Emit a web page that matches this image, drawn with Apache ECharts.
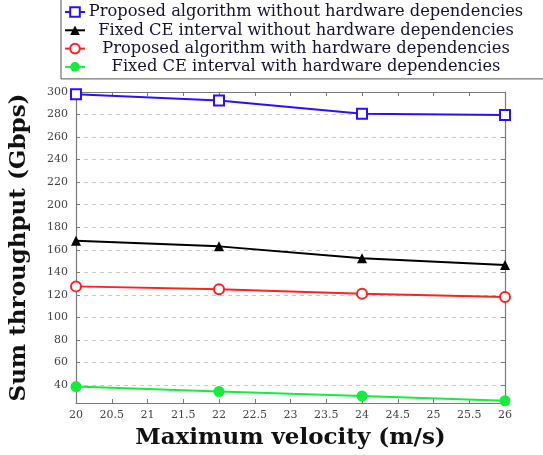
<!DOCTYPE html>
<html>
<head>
<meta charset="utf-8">
<style>
  html, body { margin: 0; padding: 0; background: #fff; }
  #chart { width: 543px; height: 455px; }
</style>
<script src="https://cdn.jsdelivr.net/npm/echarts@6/dist/echarts.min.js"></script>
</head>
<body>
<div id="chart"></div>
<script>
// Maximum velocity (m/s)
const velocities = [20, 22, 24, 26];

// Sum throughput (Gbps) per scheme
const proposedNoHw = [298, 292.5, 280.7, 279.5];
const fixedNoHw = [168, 163, 152.5, 146.5];
const proposedHw = [127.5, 125, 121, 118];
const fixedHw = [38.6, 34.2, 30.2, 26];

const seriesNames = [
  'Proposed algorithm without hardware dependencies',
  'Fixed CE interval without hardware dependencies',
  'Proposed algorithm with hardware dependencies',
  'Fixed CE interval with hardware dependencies'
];

const yTicks = [40, 60, 80, 100, 120, 140, 160, 180, 200, 220, 240, 260, 280, 300];

const serif = '"DejaVu Serif", "Liberation Serif", serif';
const frameColor = '#7a7a7a';

function pairs(ys) {
  return velocities.map((x, i) => [x, ys[i]]);
}

function lineSeries(name, ys, color, symbol, size, hollow) {
  return {
    name: name,
    type: 'line',
    data: pairs(ys),
    symbol: symbol,
    symbolSize: size,
    showAllSymbol: true,
    lineStyle: { color: color, width: 2 },
    itemStyle: hollow
      ? { color: '#fff', borderColor: color, borderWidth: 2 }
      : { color: color, borderColor: color, borderWidth: 0 },
    emphasis: { disabled: true },
    z: 3
  };
}

const chart = echarts.init(document.getElementById('chart'), null, { renderer: 'canvas' });

chart.setOption({
  animation: false,
  backgroundColor: '#fff',
  grid: { left: 73, right: 38, top: 92, bottom: 51, containLabel: false },
  legend: {
    orient: 'vertical',
    left: 61,
    top: -4,
    padding: [8, 60, 4, 3],
    itemGap: 2.3,
    itemWidth: 20,
    itemHeight: 12,
    borderColor: '#555',
    borderWidth: 1,
    backgroundColor: '#fff',
    data: seriesNames,
    formatter: function (name) { return '{t|' + name + '}'; },
    textStyle: {
      rich: {
        t: {
          fontFamily: serif,
          fontSize: 16.3,
          color: '#141430',
          width: 432,
          align: 'center',
          lineHeight: 16
        }
      }
    }
  },
  xAxis: [
    {
      type: 'value',
      min: 20,
      max: 26,
      interval: 0.5,
      name: 'Maximum velocity (m/s)',
      nameLocation: 'middle',
      nameGap: 24,
      nameTextStyle: { fontFamily: serif, fontSize: 23, fontWeight: 'bold', color: '#111' },
      axisLine: { show: true, lineStyle: { color: frameColor, width: 1.2 } },
      axisTick: { show: true, inside: true, length: 4, lineStyle: { color: frameColor } },
      axisLabel: {
        fontFamily: serif, fontSize: 11, color: '#444', margin: 7,
        formatter: function (v) { return String(v); }
      },
      splitLine: { show: false }
    },
    {
      type: 'value',
      position: 'top',
      min: 20,
      max: 26,
      interval: 0.5,
      axisLine: { show: true, lineStyle: { color: frameColor, width: 1.2 } },
      axisTick: { show: true, inside: true, length: 4, lineStyle: { color: frameColor } },
      axisLabel: { show: false },
      splitLine: { show: false }
    }
  ],
  yAxis: [
    {
      type: 'value',
      min: 24,
      max: 300,
      name: 'Sum throughput (Gbps)',
      nameLocation: 'middle',
      nameGap: 45,
      nameTextStyle: { fontFamily: serif, fontSize: 23, fontWeight: 'bold', color: '#111' },
      axisLine: { show: true, lineStyle: { color: frameColor, width: 1.2 } },
      axisTick: { show: true, inside: true, length: 4, lineStyle: { color: frameColor }, customValues: yTicks },
      axisLabel: { fontFamily: serif, fontSize: 11, color: '#444', margin: 8, customValues: yTicks },
      splitLine: { show: true, lineStyle: { color: '#c8c8c8', type: [4, 4], width: 1 } }
    },
    {
      type: 'value',
      position: 'right',
      min: 24,
      max: 300,
      axisLine: { show: true, lineStyle: { color: frameColor, width: 1.2 } },
      axisTick: { show: true, inside: true, length: 4, lineStyle: { color: frameColor }, customValues: yTicks },
      axisLabel: { show: false },
      splitLine: { show: false }
    }
  ],
  series: [
    lineSeries(seriesNames[0], proposedNoHw, '#2a10ff', 'rect', 10, true),
    lineSeries(seriesNames[1], fixedNoHw, '#000000', 'triangle', 10, false),
    lineSeries(seriesNames[2], proposedHw, '#ff2020', 'circle', 10, true),
    lineSeries(seriesNames[3], fixedHw, '#12ee3a', 'circle', 11, false)
  ]
});
</script>
</body>
</html>
